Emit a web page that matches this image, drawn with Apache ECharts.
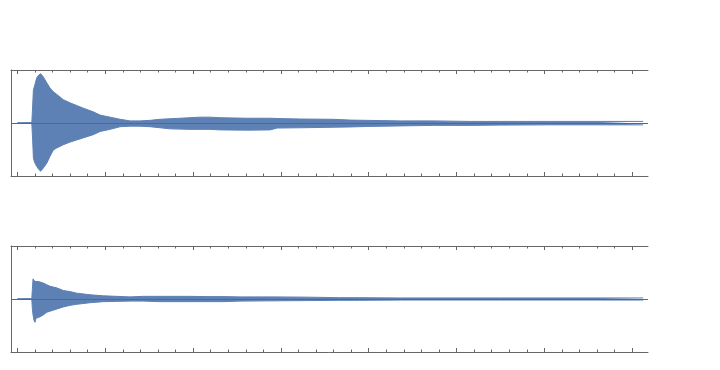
<!DOCTYPE html>
<html>
<head>
<meta charset="utf-8">
<script src="https://cdn.jsdelivr.net/npm/echarts@6/dist/echarts.min.js"></script>
<style>
html,body{margin:0;padding:0;background:#fff;}
#c{width:720px;height:370px;}
</style>
</head>
<body>
<div id="c"></div>
<script>
// Time axis (seconds)
var xMin = -0.073, xMax = 7.18;
var majorTicks = [0,1,2,3,4,5,6,7];
var minorTicks = [0.2,0.4,0.6,0.8,1.2,1.4,1.6,1.8,2.2,2.4,2.6,2.8,3.2,3.4,3.6,3.8,
                  4.2,4.4,4.6,4.8,5.2,5.4,5.6,5.8,6.2,6.4,6.6,6.8];

// Top panel: envelope of waveform (upper / lower amplitude)
var topTime  = [0.000,0.164,0.173,0.182,0.195,0.220,0.240,0.265,0.295,0.334,0.371,0.409,0.448,0.523,0.599,0.675,0.751,0.864,0.941,1.055,1.169,1.282,1.396,1.510,1.624,1.738,1.852,1.966,2.080,2.194,2.308,2.615,2.877,2.957,3.219,3.595,3.788,3.982,4.164,4.358,4.734,4.927,5.155,5.497,6.066,6.636,7.125];
var topUpper = [0.006,0.008,0.30,0.62,0.70,0.85,0.90,0.93,0.87,0.76,0.66,0.59,0.54,0.44,0.38,0.33,0.28,0.21,0.15,0.11,0.07,0.04,0.04,0.05,0.07,0.08,0.09,0.10,0.11,0.11,0.10,0.09,0.09,0.085,0.075,0.07,0.055,0.05,0.045,0.04,0.04,0.035,0.03,0.03,0.03,0.03,0.03];
var topLower = [-0.006,-0.008,-0.30,-0.66,-0.74,-0.82,-0.87,-0.91,-0.85,-0.76,-0.63,-0.51,-0.47,-0.41,-0.36,-0.32,-0.28,-0.22,-0.16,-0.12,-0.07,-0.06,-0.06,-0.07,-0.09,-0.11,-0.115,-0.12,-0.12,-0.12,-0.13,-0.135,-0.13,-0.095,-0.09,-0.08,-0.075,-0.065,-0.06,-0.055,-0.045,-0.045,-0.045,-0.04,-0.035,-0.035,-0.035];

// Bottom panel
var botTime  = [0.000,0.164,0.171,0.178,0.189,0.200,0.212,0.220,0.240,0.257,0.295,0.334,0.371,0.448,0.523,0.599,0.675,0.827,0.978,1.131,1.282,1.434,1.624,1.966,2.159,2.342,2.535,2.911,3.295,3.670,3.898,4.358,5.497,6.636,7.125];
var botUpper = [0.006,0.008,0.20,0.38,0.36,0.33,0.32,0.32,0.33,0.33,0.30,0.27,0.24,0.21,0.16,0.14,0.11,0.08,0.06,0.05,0.04,0.05,0.05,0.05,0.045,0.045,0.04,0.04,0.035,0.025,0.025,0.02,0.02,0.02,0.02];
var botLower = [-0.006,-0.008,-0.20,-0.30,-0.40,-0.44,-0.36,-0.33,-0.35,-0.37,-0.30,-0.25,-0.23,-0.19,-0.15,-0.12,-0.10,-0.07,-0.05,-0.045,-0.04,-0.04,-0.05,-0.05,-0.05,-0.05,-0.04,-0.035,-0.03,-0.025,-0.025,-0.02,-0.02,-0.02,-0.02];

var waveColor = '#5e81b5';
var frameColor = '#666666';

function zip(t, v){ return t.map(function(x,i){ return [x, v[i]]; }); }

function xAxes(gi){
  function ax(pos, ticks, len, showLine){
    return {
      type:'value', gridIndex:gi, position:pos, min:xMin, max:xMax,
      axisLine:{show:showLine, onZero:false, lineStyle:{color:frameColor, width:1}},
      axisTick:{show:true, inside:true, length:len, customValues:ticks, lineStyle:{color:frameColor, width:1}},
      axisLabel:{show:false}, splitLine:{show:false}
    };
  }
  return [ax('bottom', majorTicks, 4, true), ax('bottom', minorTicks, 2.5, false),
          ax('top', majorTicks, 4, true), ax('top', minorTicks, 2.5, false)];
}
function yAxis(gi){
  return {type:'value', gridIndex:gi, min:-1, max:1, position:'left',
    axisLine:{show:true, onZero:false, lineStyle:{color:frameColor, width:1}},
    axisTick:{show:false}, axisLabel:{show:false}, splitLine:{show:false}};
}
function band(xi, yi, data, withZero){
  var s = {
    type:'line', xAxisIndex:xi, yAxisIndex:yi, data:data, symbol:'none',
    lineStyle:{color:waveColor, width:1}, areaStyle:{color:waveColor, opacity:1},
    itemStyle:{color:waveColor}, silent:true, animation:false
  };
  if (withZero){
    s.markLine = {silent:true, symbol:'none', label:{show:false}, animation:false,
      lineStyle:{color:frameColor, width:1, type:'solid'}, data:[{yAxis:0}]};
  }
  return s;
}

var chart = echarts.init(document.getElementById('c'), null, {renderer:'canvas'});
chart.setOption({
  animation:false,
  backgroundColor:'#ffffff',
  grid:[
    {left:11, top:70, width:637, height:106},
    {left:11, top:246, width:637, height:106}
  ],
  xAxis: xAxes(0).concat(xAxes(1)),
  yAxis: [yAxis(0), yAxis(1)],
  series:[
    band(0, 0, zip(topTime, topUpper), false),
    band(0, 0, zip(topTime, topLower), true),
    band(4, 1, zip(botTime, botUpper), false),
    band(4, 1, zip(botTime, botLower), true)
  ]
});
</script>
</body>
</html>
